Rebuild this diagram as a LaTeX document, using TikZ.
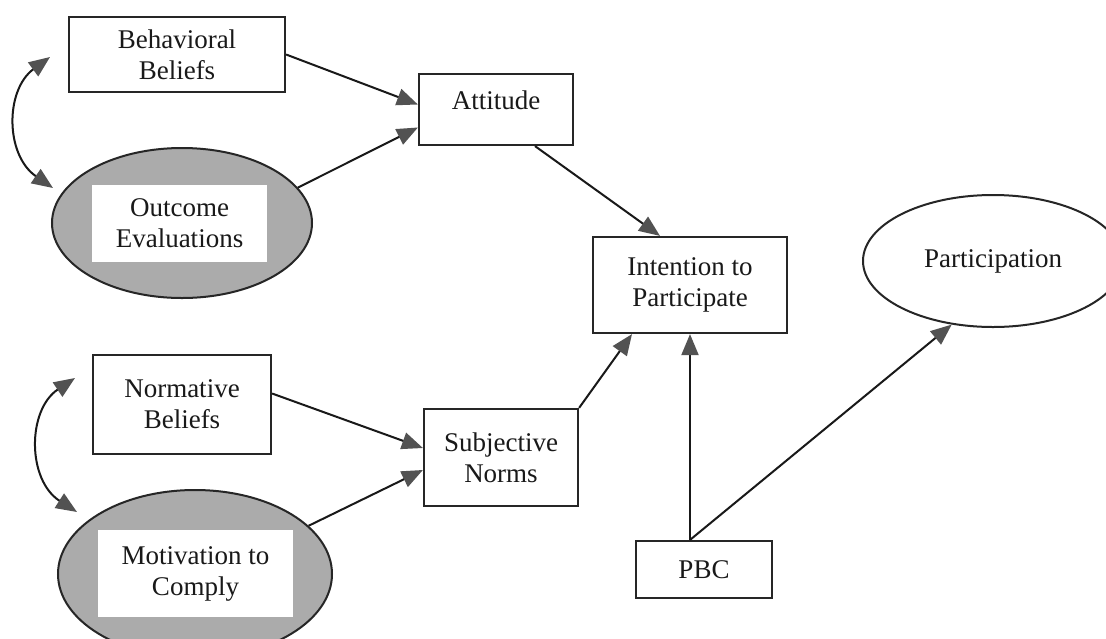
\documentclass[tikz,border=0pt]{standalone}
\usepackage{fontspec}
\setmainfont{Liberation Serif}
\usetikzlibrary{shapes.geometric,arrows.meta}
\tikzset{
  lbl/.style={font=\fontsize{27}{31}\selectfont, text=black!90, align=center},
  box/.style={lbl, draw=black!85, line width=2.2pt, rectangle, inner sep=0pt},
  ell/.style={draw=black!85, line width=2pt, ellipse, inner sep=0pt},
  grayell/.style={ell, fill=black!33},
  whitebox/.style={lbl, fill=white, inner sep=0pt},
  tip/.style={},
  conn/.style={draw=black!90, line width=2pt, -{Triangle[length=21pt,width=17pt,color=black!68]}},
  dconn/.style={draw=black!90, line width=2pt, {Triangle[length=21pt,width=17pt,color=black!68]}-{Triangle[length=21pt,width=17pt,color=black!68]}}
}
\begin{document}
\begin{tikzpicture}[x=1pt,y=-1pt]
\useasboundingbox (0,0) rectangle (1106,638);
\clip (0,0) rectangle (1106,638);
\fill[white] (0,0) rectangle (1106,638);

% nodes
\node[box, minimum width=216pt, minimum height=75pt] (bb) at (177,54.5) {Behavioral\\Beliefs};
\node[box, minimum width=154pt, text height=35pt, text depth=36pt] (att) at (496,109.5) {Attitude};
\node[grayell, minimum width=260pt, minimum height=150pt] (oe) at (182,223) {};
\node[whitebox, minimum width=175pt, minimum height=77pt] (oet) at (179.5,223.5) {Outcome\\Evaluations};
\node[box, minimum width=194pt, minimum height=96pt] (int) at (690,285) {Intention to\\Participate};
\node[ell, lbl, minimum width=260pt, minimum height=132pt] (part) at (993,261) {Participation};
\node[box, minimum width=178pt, minimum height=99pt] (nb) at (182,404.5) {Normative\\Beliefs};
\node[box, minimum width=154pt, minimum height=97pt] (sn) at (501,457.5) {Subjective\\Norms};
\node[grayell, minimum width=274pt, minimum height=168pt] (me) at (195,574) {};
\node[whitebox, minimum width=195pt, minimum height=87pt] (met) at (195.5,573.5) {Motivation to\\Comply};
\node[box, minimum width=136pt, minimum height=57pt] (pbc) at (704,569.5) {PBC};

% connectors
\draw[conn] (bb.east) -- ([yshift=5pt]att.west);
\draw[conn] (oe.17) -- ([yshift=-18pt]att.west);
\draw[conn] ([xshift=39pt]att.south) -- ([xshift=-30pt]int.north);
\draw[conn] ([yshift=11pt]nb.east) -- ([yshift=9.5pt]sn.west);
\draw[conn] (me.23) -- ([yshift=-12.5pt]sn.west);
\draw[conn] (sn.north east) -- ([xshift=-58pt]int.south);
\coordinate (pb) at (pbc.north -| int.south);
\draw[conn] (pb) -- (int.south);
\draw[conn] (pb) -- (part.237);

% curved double-headed arrows
\coordinate (c1) at (50,57);
\coordinate (c2) at (53,188);
\draw[dconn] (c1) .. controls (5,90) and (5,155) .. (c2);
\coordinate (c3) at (75,378);
\coordinate (c4) at (77,512);
\draw[dconn] (c3) .. controls (27,410) and (27,480) .. (c4);
\end{tikzpicture}
\end{document}
